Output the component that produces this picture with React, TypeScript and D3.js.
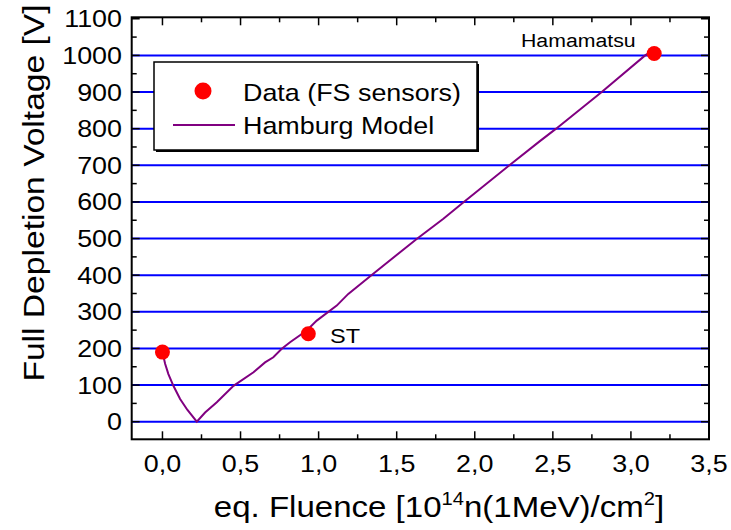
import React from "react";
import * as d3 from "d3";

const dataFluence = [0.0, 0.934, 3.149];
const dataVoltage = [190, 240, 1005];
const dataLabels = ["", "ST", "Hamamatsu"];

const modelFluence = [0.0, 0.017, 0.038, 0.07, 0.113, 0.16, 0.22, 0.273, 0.348, 0.455, 0.583, 0.657, 0.71, 0.764, 0.817, 0.924, 0.988, 1.116, 1.19, 1.35, 1.628, 1.799, 1.93, 2.222, 2.417, 2.521, 2.813, 3.091, 3.12];
const modelVoltage = [190, 158, 130, 98, 62, 32, 0, 25, 53, 98, 135, 162, 176, 199, 217, 249, 276, 317, 349, 404, 499, 554, 600, 700, 766, 800, 900, 1000, 1008];

const xTicks = [0, 0.5, 1.0, 1.5, 2.0, 2.5, 3.0, 3.5];
const xMinorTicks = [0.25, 0.75, 1.25, 1.75, 2.25, 2.75, 3.25];
const yTicks = [0, 100, 200, 300, 400, 500, 600, 700, 800, 900, 1000, 1100];
const yMinorTicks = [50, 150, 250, 350, 450, 550, 650, 750, 850, 950, 1050];
const gridValues = [0, 100, 200, 300, 400, 500, 600, 700, 800, 900, 1000];

const FONT = "'Liberation Sans', Arial, Helvetica, sans-serif";

export default function App() {
  const W = 731, H = 530;
  const left = 131.7, right = 709, top = 17.3, bottom = 439.3;
  const x = d3.scaleLinear().domain([-0.197, 3.5]).range([left, right]);
  const y = d3.scaleLinear().domain([-48, 1104]).range([bottom, top]);
  const fmt = (v: number) => v.toFixed(1).replace(".", ",");
  const line = d3.line<number>().x((_, i) => x(modelFluence[i])).y((_, i) => y(modelVoltage[i]));
  const sx = 1.12;

  return (
    <svg width={W} height={H} style={{ position: "absolute", left: 0, top: 0 }} fontFamily={FONT}>
      <rect width={W} height={H} fill="#fff" />
      {gridValues.map((v) => (
        <line key={"g" + v} x1={left} x2={right} y1={y(v)} y2={y(v)} stroke="#0000ff" strokeWidth={2} />
      ))}
      <path d={line(modelFluence) || ""} fill="none" stroke="#800080" strokeWidth={2} />
      {dataFluence.map((f, i) => (
        <circle key={"c" + i} cx={x(f)} cy={y(dataVoltage[i])} r={7.5} fill="#ff0000" />
      ))}
      {/* frame */}
      <rect x={left} y={top} width={right - left} height={bottom - top} fill="none" stroke="#000" strokeWidth={2} />
      {xTicks.map((t) => (
        <g key={"xt" + t}>
          <line x1={x(t)} x2={x(t)} y1={bottom} y2={bottom - 8} stroke="#000" strokeWidth={1.5} />
          <line x1={x(t)} x2={x(t)} y1={top} y2={top + 8} stroke="#000" strokeWidth={1.5} />
          <text transform={`translate(${x(t)},472) scale(${sx},1)`} textAnchor="middle" fontSize={24}>{fmt(t)}</text>
        </g>
      ))}
      {xMinorTicks.map((t) => (
        <g key={"xm" + t}>
          <line x1={x(t)} x2={x(t)} y1={bottom} y2={bottom - 5} stroke="#000" strokeWidth={1.5} />
          <line x1={x(t)} x2={x(t)} y1={top} y2={top + 5} stroke="#000" strokeWidth={1.5} />
        </g>
      ))}
      {yTicks.map((t) => (
        <g key={"yt" + t}>
          <line x1={left} x2={left + 8} y1={y(t)} y2={y(t)} stroke="#000" strokeWidth={1.5} />
          <line x1={right} x2={right - 8} y1={y(t)} y2={y(t)} stroke="#000" strokeWidth={1.5} />
          <text transform={`translate(122,${y(t) + 8.5}) scale(${sx},1)`} textAnchor="end" fontSize={24}>{t}</text>
        </g>
      ))}
      {yMinorTicks.map((t) => (
        <g key={"ym" + t}>
          <line x1={left} x2={left + 5} y1={y(t)} y2={y(t)} stroke="#000" strokeWidth={1.5} />
          <line x1={right} x2={right - 5} y1={y(t)} y2={y(t)} stroke="#000" strokeWidth={1.5} />
        </g>
      ))}
      {/* point labels */}
      <text transform={`translate(330,343) scale(${sx},1)`} fontSize={21}>{dataLabels[1]}</text>
      <text transform={`translate(521,47) scale(${sx},1)`} fontSize={19}>{dataLabels[2]}</text>
      {/* legend */}
      <rect x={156} y={64} width={323} height={88} fill="#000" />
      <rect x={154} y={62} width={323} height={88} fill="#fff" stroke="#000" strokeWidth={1.5} />
      <circle cx={203} cy={91} r={8.5} fill="#ff0000" />
      <line x1={173} x2={235} y1={125} y2={125} stroke="#800080" strokeWidth={2} />
      <text transform={`translate(243,101) scale(${sx},1)`} fontSize={24}>Data (FS sensors)</text>
      <text transform={`translate(243,134) scale(${sx},1)`} fontSize={24}>Hamburg Model</text>
      {/* axis titles */}
      <text transform={`translate(44,193) rotate(-90) scale(${sx},1)`} textAnchor="middle" fontSize={30}>Full Depletion Voltage [V]</text>
      <text transform={`translate(439,517) scale(${sx},1)`} textAnchor="middle" fontSize={29.5}>
        eq. Fluence [10<tspan fontSize={18} dy={-12}>14</tspan><tspan dy={12}>n(1MeV)/cm</tspan><tspan fontSize={18} dy={-12}>2</tspan><tspan dy={12}>]</tspan>
      </text>
    </svg>
  );
}
